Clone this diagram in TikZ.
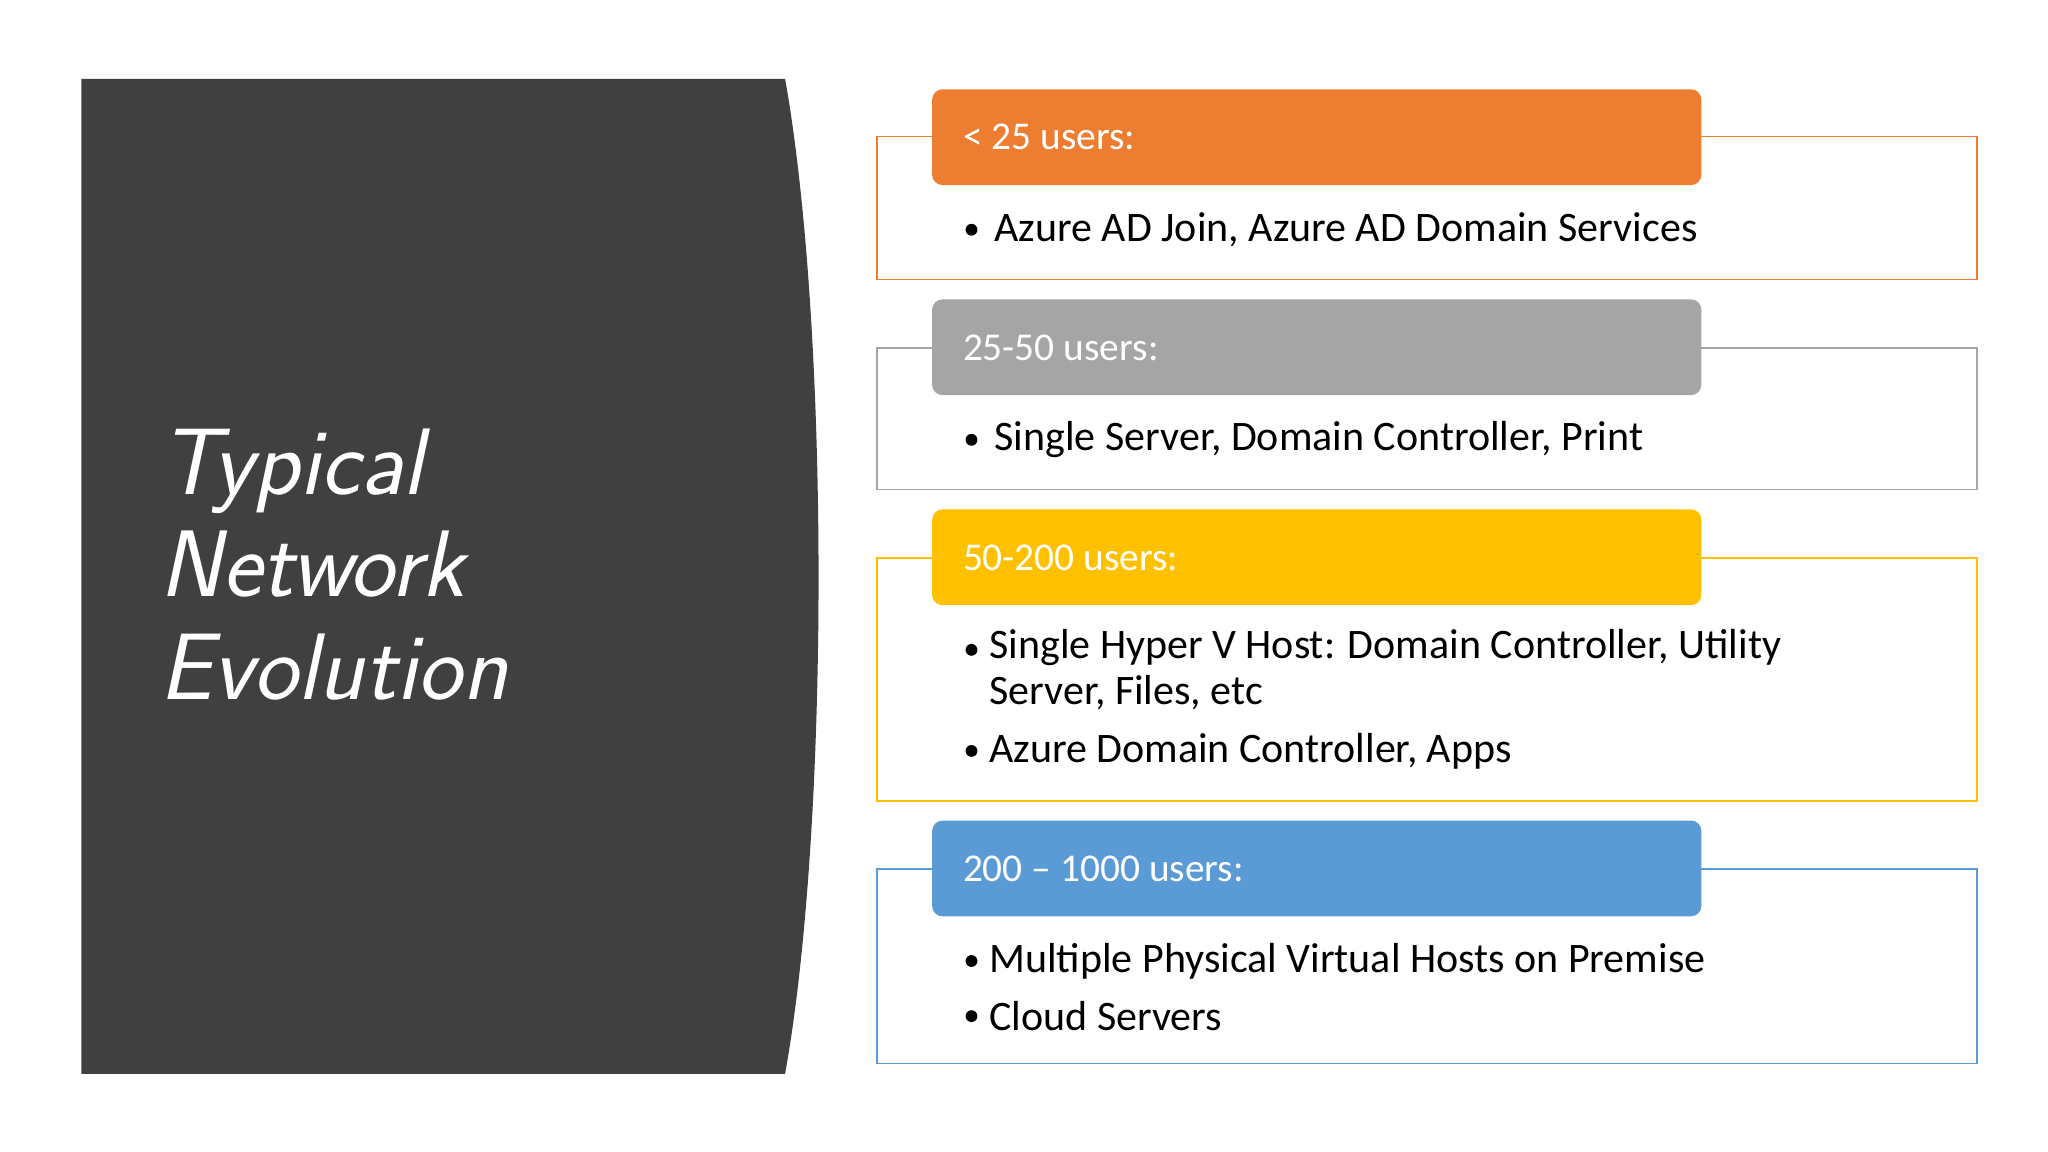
\documentclass[tikz,border=0pt]{standalone}
\usepackage{fontspec}
\setmainfont{Carlito}
\definecolor{dark}{HTML}{404040}
\definecolor{c1}{HTML}{ED7D31}
\definecolor{c2}{HTML}{A5A5A5}
\definecolor{c3}{HTML}{FFC000}
\definecolor{c4}{HTML}{5B9BD5}
\tikzset{
 hdr/.style={rounded corners=8pt,fill=#1,draw=none},
 outer/.style={draw=#1,line width=1.2pt},
 htext/.style={anchor=west,text=white,font=\fontsize{30}{33}\selectfont},
 btext/.style={anchor=west,align=left,font=\fontsize{32}{36}\selectfont},
 dot/.style={circle,fill=black,inner sep=0pt,minimum size=9pt}
}
\begin{document}
\begin{tikzpicture}[x=1pt,y=-1pt]
\useasboundingbox (0,0) rectangle (1560,877.5);
\fill[dark] (62,60) -- (598,60) .. controls (632,250) and (632,630) .. (598,818) -- (62,818) -- cycle;
\node[anchor=west,align=left,text=white,font=\sffamily\itshape\fontsize{72}{78}\selectfont] (title) at (118,430) {Typical\\Network\\Evolution};
% group 1
\draw[outer=c1] (668,104) rectangle (1506,213);
\fill[hdr=c1] (710,68) rectangle (1296,141);
\node[htext] (h1) at (730,104) {< 25 users:};
\node[dot] (d1) at (740,175) {};
\node[btext] (b1) at (754,175) {Azure AD Join, Azure AD Domain Services};
% group 2
\draw[outer=c2] (668,265) rectangle (1506,373);
\fill[hdr=c2] (710,228) rectangle (1296,301);
\node[htext] (h2) at (730,265) {25-50 users:};
\node[dot] (d2) at (740,335) {};
\node[btext] (b2) at (754,335) {Single Server, Domain Controller, Print};
% group 3
\draw[outer=c3] (668,425) rectangle (1506,610);
\fill[hdr=c3] (710,388) rectangle (1296,461);
\node[htext] (h3) at (730,425) {50-200 users:};
\node[dot] (d3) at (740,495) {};
\node[btext,anchor=north west] (b3) at (750,476) {Single Hyper V Host: Domain Controller, Utility\\[-1pt]Server, Files, etc};
\node[dot] (d3b) at (740,572) {};
\node[btext] (b3b) at (750,572) {Azure Domain Controller, Apps};
% group 4
\draw[outer=c4] (668,662) rectangle (1506,810);
\fill[hdr=c4] (710,625) rectangle (1296,698);
\node[htext] (h4) at (730,662) {200 – 1000 users:};
\node[dot] (d4) at (740,732) {};
\node[btext] (b4) at (750,732) {Multiple Physical Virtual Hosts on Premise};
\node[dot] (d4b) at (740,774) {};
\node[btext] (b4b) at (750,774) {Cloud Servers};
\end{tikzpicture}
\end{document}
